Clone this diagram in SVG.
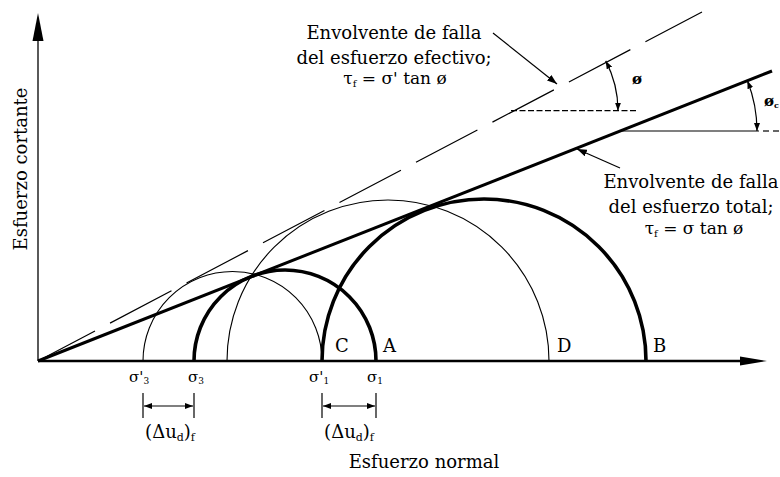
<svg xmlns="http://www.w3.org/2000/svg" width="780" height="477" viewBox="0 0 780 477">
<style>
text{font-family:"DejaVu Serif","Liberation Serif",serif;fill:#000}
.lbl{font-size:18px}
.mid{text-anchor:middle}
.thin{fill:none;stroke:#000;stroke-width:1.1}
.thick{fill:none;stroke:#000;stroke-width:3.6}
.ln{fill:none;stroke:#000;stroke-width:1.2}
</style>
<defs>
<marker id="ah" viewBox="0 0 10 7" refX="10" refY="3.5" markerWidth="10" markerHeight="7" markerUnits="userSpaceOnUse" orient="auto-start-reverse">
<path d="M0,0 L10,3.5 L0,7 z" fill="#000"/>
</marker>
<marker id="sm" viewBox="0 0 8 6" refX="8" refY="3" markerWidth="8" markerHeight="6" markerUnits="userSpaceOnUse" orient="auto-start-reverse">
<path d="M0,0 L8,3 L0,6 z" fill="#000"/>
</marker>
</defs>
<rect width="780" height="477" fill="#fff"/>

<g id="axes">
<line x1="38" y1="361" x2="38" y2="38" stroke="#000" stroke-width="1.3"/>
<path d="M38,13 L43.5,41 L32.5,41 z" fill="#000"/>
<line x1="38" y1="361" x2="742" y2="361" stroke="#000" stroke-width="2.6"/>
<path d="M767,361 L740,356.5 L740,365.5 z" fill="#000"/>
</g>

<g id="circles">
<path class="thin" d="M143,361 A89.5,89.5 0 0 1 322,361"/>
<path class="thin" d="M227,361 A161,161 0 0 1 549,361"/>
<path class="thick" d="M194,361 A91,91 0 0 1 376,361"/>
<path class="thick" d="M322,361 A162,162 0 0 1 646,361"/>
</g>

<g id="connectors">
<line id="effective-envelope" x1="38" y1="361" x2="702" y2="12" stroke="#000" stroke-width="1.2" stroke-dasharray="69.4,17" stroke-dashoffset="5"/>
<line id="total-envelope" x1="38" y1="361" x2="772" y2="71" stroke="#000" stroke-width="3"/>
<line class="ln" x1="493" y1="33" x2="557" y2="84" marker-end="url(#ah)"/>
<line class="ln" x1="620" y1="168" x2="577" y2="149" marker-end="url(#ah)"/>
</g>

<g id="angle-effective">
<line x1="511" y1="110.7" x2="638" y2="110.7" stroke="#000" stroke-width="1.2" stroke-dasharray="6,2.5"/>
<path class="ln" d="M605.7,60.9 A107,107 0 0 1 618,110.7" marker-start="url(#sm)" marker-end="url(#sm)"/>
<text x="637" y="84" class="mid" style="font-size:15px;font-weight:bold">ø</text>
</g>

<g id="angle-total">
<line x1="620" y1="131" x2="759" y2="131" stroke="#000" stroke-width="1.2"/>
<line x1="763" y1="131" x2="769" y2="131" stroke="#000" stroke-width="1.2"/>
<line x1="773" y1="131" x2="779" y2="131" stroke="#000" stroke-width="1.2"/>
<path class="ln" d="M747.4,80.7 A137,137 0 0 1 757,131" marker-start="url(#sm)" marker-end="url(#sm)"/>
<text x="764" y="106" style="font-size:15px;font-weight:bold">ø<tspan style="font-size:8px" dy="2">c</tspan></text>
</g>

<g id="label-effective">
<text class="lbl mid" x="394" y="39">Envolvente de falla</text>
<text class="lbl mid" x="394" y="64">del esfuerzo efectivo;</text>
<text class="mid" x="395" y="84" style="font-size:17px">τ<tspan style="font-size:10px" dy="3">f</tspan><tspan dy="-3"> = σ' tan ø</tspan></text>
</g>

<g id="label-total">
<text class="lbl mid" x="691" y="188">Envolvente de falla</text>
<text class="lbl mid" x="691" y="213">del esfuerzo total;</text>
<text class="mid" x="694" y="234" style="font-size:17px">τ<tspan style="font-size:10px" dy="3">f</tspan><tspan dy="-3"> = σ tan ø</tspan></text>
</g>

<g id="axis-titles">
<text class="lbl mid" transform="translate(27,169) rotate(-90)">Esfuerzo cortante</text>
<text class="lbl mid" x="424" y="468">Esfuerzo normal</text>
</g>

<g id="points">
<text class="lbl" x="335" y="352">C</text>
<text class="lbl" x="383" y="352">A</text>
<text class="lbl" x="557" y="352">D</text>
<text class="lbl" x="653" y="352">B</text>
</g>

<g id="sigma-labels" style="font-size:15px">
<text x="129" y="382">σ'<tspan style="font-size:9px" dy="2">3</tspan></text>
<text x="188" y="382">σ<tspan style="font-size:9px" dy="2">3</tspan></text>
<text x="309" y="382">σ'<tspan style="font-size:9px" dy="2">1</tspan></text>
<text x="367" y="382">σ<tspan style="font-size:9px" dy="2">1</tspan></text>
</g>

<g id="delta-u-left">
<line x1="143" y1="393" x2="143" y2="418" stroke="#000" stroke-width="1.2"/>
<line x1="194" y1="393" x2="194" y2="418" stroke="#000" stroke-width="1.2"/>
<line class="ln" x1="144" y1="406" x2="193" y2="406" marker-start="url(#sm)" marker-end="url(#sm)"/>
<text class="lbl mid" x="170" y="438">(Δu<tspan style="font-size:11px" dy="3">d</tspan><tspan dy="-3">)</tspan><tspan style="font-size:11px" dy="3">f</tspan></text>
</g>

<g id="delta-u-right">
<line x1="322" y1="393" x2="322" y2="418" stroke="#000" stroke-width="1.2"/>
<line x1="376" y1="393" x2="376" y2="418" stroke="#000" stroke-width="1.2"/>
<line class="ln" x1="323" y1="406" x2="375" y2="406" marker-start="url(#sm)" marker-end="url(#sm)"/>
<text class="lbl mid" x="349" y="438">(Δu<tspan style="font-size:11px" dy="3">d</tspan><tspan dy="-3">)</tspan><tspan style="font-size:11px" dy="3">f</tspan></text>
</g>
</svg>
